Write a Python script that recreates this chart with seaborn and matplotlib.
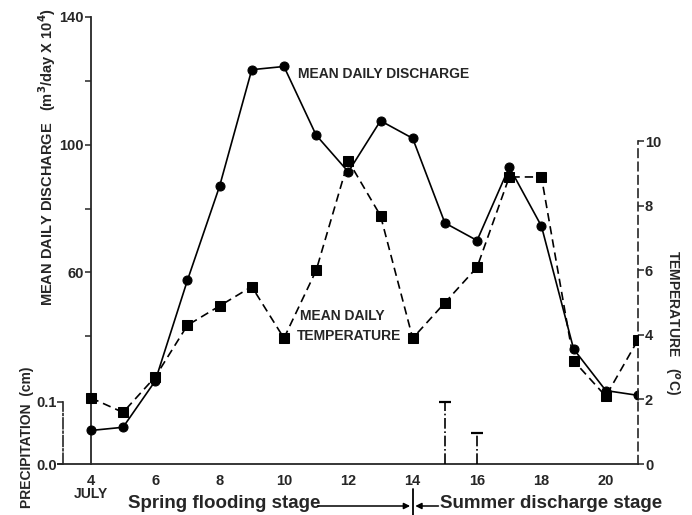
import numpy as np
import pandas as pd
import seaborn as sns
import matplotlib
matplotlib.use('Agg')
import matplotlib.pyplot as plt
from matplotlib import ticker
from matplotlib.transforms import blended_transform_factory

days = [4, 5, 6, 7, 8, 9, 10, 11, 12, 13, 14, 15, 16, 17, 18, 19, 20, 21]
discharge = [10.5, 11.5, 26, 57.5, 87, 123.5, 124.5, 103, 91.5, 107.5, 102, 75.5, 70, 93, 74.5, 36, 23, 21.5]
temperature = [2.05, 1.6, 2.7, 4.3, 4.9, 5.5, 3.9, 6.0, 9.4, 7.7, 3.9, 5.0, 6.1, 8.9, 8.9, 3.2, 2.1, 3.85]
precip_days = [15, 16]
precip = [0.1, 0.05]

df = pd.DataFrame({'day': days, 'discharge': discharge, 'temperature': temperature})

sns.set_style('white')
plt.rcParams['font.family'] = ['Liberation Sans', 'DejaVu Sans']
plt.rcParams['font.weight'] = 'bold'

fig = plt.figure(figsize=(6.92, 5.15), dpi=100)
ax = fig.add_axes([58 / 692, 1 - 464 / 515, (638 - 58) / 692, (464 - 17) / 515])
ax.set_facecolor('none')
ax.set_xlim(2.98, 21)
ax.set_ylim(0, 140)

sns.lineplot(data=df, x='day', y='discharge', ax=ax, color='black', lw=1.2,
             marker='o', markersize=6.5, markeredgecolor='black', zorder=3)

# temperature axis
axt = ax.twinx()
axt.set_ylim(0, 13.86)
sns.lineplot(data=df, x='day', y='temperature', ax=axt, color='black', lw=1.2,
             marker='s', markersize=6.5, markeredgecolor='black', zorder=3)
axt.lines[0].set_dashes([5, 3])

# precipitation axis
axp = ax.twinx()
axp.set_ylim(0, 0.72)
axp.vlines(precip_days, 0, precip, colors='black', linestyles='dashdot', lw=1.2)
axp.plot(precip_days, precip, ls='none', marker='_', markersize=9, mew=1.6, color='black')

for a in (ax, axt, axp):
    for s in a.spines.values():
        s.set_visible(False)
    a.set_xlabel('')
    a.set_ylabel('')

# x axis
ax.spines['bottom'].set_visible(True)
ax.spines['bottom'].set_linewidth(1.3)
ax.set_xticks(days)
ax.set_xticklabels([str(d) if d % 2 == 0 and d < 21 else '' for d in days])
ax.tick_params(axis='x', direction='out', length=4, width=1.1, pad=3, labelsize=10.5)

# discharge axis
ax.spines['left'].set_visible(True)
ax.spines['left'].set_position(('data', 4))
ax.spines['left'].set_bounds(0, 140)
ax.spines['left'].set_linewidth(1.3)
ax.yaxis.set_ticks_position('left')
ax.set_yticks([60, 100, 140])
ax.yaxis.set_minor_locator(ticker.FixedLocator([40, 80, 120]))
ax.tick_params(axis='y', which='both', direction='out', length=4, width=1.1, labelsize=10.5, pad=1)

# temperature axis spine
axt.spines['right'].set_visible(True)
axt.spines['right'].set_position(('data', 21))
axt.spines['right'].set_bounds(0, 10)
axt.spines['right'].set_linestyle((0, (5, 3)))
axt.spines['right'].set_linewidth(1.2)
axt.set_yticks([0, 2, 4, 6, 8, 10])
axt.tick_params(axis='y', direction='out', length=4, width=1.1, labelsize=10.5, pad=1)

# precipitation axis spine
axp.spines['left'].set_visible(True)
axp.spines['left'].set_position(('data', 3.15))
axp.spines['left'].set_bounds(0, 0.1)
axp.spines['left'].set_linestyle('dashdot')
axp.spines['left'].set_linewidth(1.2)
axp.yaxis.set_ticks_position('left')
axp.yaxis.set_label_position('left')
axp.set_yticks([0.0, 0.1])
axp.set_yticklabels(['0.0', '0.1'])
axp.tick_params(axis='y', direction='out', length=4, width=1.1, labelsize=10.5, pad=1)

# series labels
ax.text(10.45, 122, 'MEAN DAILY DISCHARGE', fontsize=10, fontweight='bold', va='center', ha='left')
ax.text(10.5, 46.5, 'MEAN DAILY', fontsize=10, fontweight='bold', va='center', ha='left')
ax.text(10.4, 40.2, 'TEMPERATURE', fontsize=10, fontweight='bold', va='center', ha='left')

# axis titles
fig.text(47 / 692, 1 - 157 / 515, 'MEAN DAILY DISCHARGE   (m$^3$/day X 10$^4$)',
         rotation=90, ha='center', va='center', fontsize=10.5, fontweight='bold')
fig.text(27 / 692, 1 - 437 / 515, 'PRECIPITATION  (cm)', rotation=90,
         ha='center', va='center', fontsize=10, fontweight='bold')
fig.text(672 / 692, 1 - 322 / 515, 'TEMPERATURE   ($^o$C)', rotation=-90,
         ha='center', va='center', fontsize=10, fontweight='bold')

# bottom annotations
tr = blended_transform_factory(ax.transData, fig.transFigure)
ax.text(4, 1 - 494 / 515, 'JULY', transform=tr, ha='center', va='center', fontsize=10, fontweight='bold')
ax.text(5.15, 1 - 504 / 515, 'Spring flooding stage', transform=tr, ha='left', va='center', fontsize=13.5, fontweight='bold')
ax.text(14.84, 1 - 504 / 515, 'Summer discharge stage', transform=tr, ha='left', va='center', fontsize=13.5, fontweight='bold')
ax.annotate('', xy=(13.92, 1 - 506 / 515), xytext=(11.05, 1 - 506 / 515), xycoords=tr, textcoords=tr,
            arrowprops=dict(arrowstyle='-|>', color='black', lw=1.1, mutation_scale=9, shrinkA=0, shrinkB=0))
ax.annotate('', xy=(14.08, 1 - 506 / 515), xytext=(14.8, 1 - 506 / 515), xycoords=tr, textcoords=tr,
            arrowprops=dict(arrowstyle='-|>', color='black', lw=1.1, mutation_scale=9, shrinkA=0, shrinkB=0))
ax.plot([14, 14], [1 - 489 / 515, 0], transform=tr, color='black', lw=1.3, clip_on=False)

fig.savefig('out.png', dpi=100)
